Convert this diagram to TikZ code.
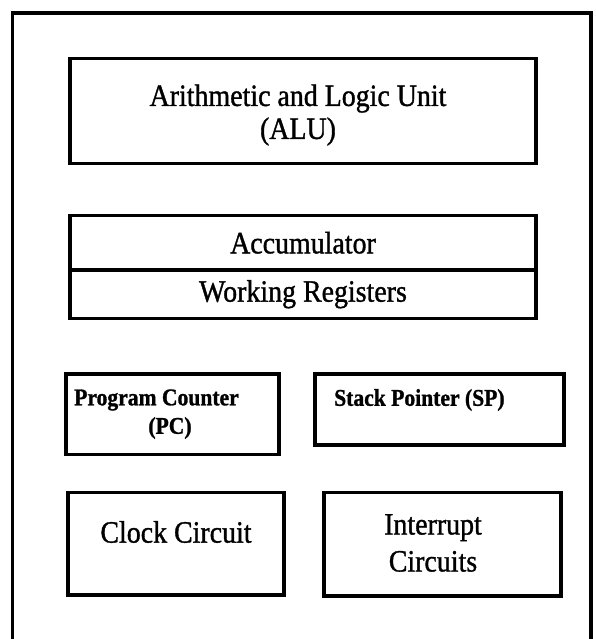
\documentclass[tikz,border=0pt]{standalone}
\usepackage{fontspec}
\setmainfont{Liberation Serif}[FakeStretch=0.9, FakeBold=1.1]
\usetikzlibrary{positioning}
\definecolor{ink}{HTML}{000000}
\tikzset{
  unit/.style={draw=ink, line width=3.2pt, inner sep=0pt, outer sep=0pt, anchor=north west},
  unittext/.style={font=\fontsize{31}{33}\selectfont, text=ink, align=center, inner sep=0pt},
  regtext/.style={font=\bfseries\fontsize{24}{30}\selectfont, text=ink, inner sep=0pt},
}

\begin{document}
\begin{tikzpicture}[x=1pt, y=-1pt]
\path[use as bounding box] (0,0) rectangle (595,639);
% outline of the chip, open at the bottom edge
\coordinate (cpu-bl) at (12.5,650);
\coordinate (cpu-tl) at (12.5,13);
\coordinate (cpu-tr) at (591,13);
\coordinate (cpu-br) at (591,650);
\draw[ink, line width=3.2pt] (cpu-bl) -- (cpu-tl) -- (cpu-tr) -- (cpu-br);

\node[unit, minimum width=466pt, minimum height=105pt] (alu) at (70,58.5) {};
\node[unittext] (alu-name) at (298,115) {Arithmetic and Logic Unit\\(ALU)};

% register block, split in two rows
\node[unit, unittext, minimum width=466pt, minimum height=54.5pt] (acc) at (70,215.5) {Accumulator};
\node[unit, unittext, minimum width=466pt, minimum height=48.5pt] (wreg) at (acc.south west) {Working Registers};

\node[unit, minimum width=213pt, minimum height=80.5pt] (pc) at (66,374) {};
\node[regtext, anchor=west] (pc-name) at (74,400) {Program Counter};
\node[regtext] (pc-abbr) at (170,428) {(PC)};

\node[unit, minimum width=249pt, minimum height=71pt] (sp) at (315,374) {};
\node[regtext, anchor=west] (sp-name) at (334,400) {Stack Pointer (SP)};

\node[unit, minimum width=216pt, minimum height=102.5pt] (clk) at (68,492.5) {};
\node[unittext] (clk-name) at (176,532) {Clock Circuit};

\node[unit, minimum width=237pt, minimum height=103.5pt] (intr) at (324,492.5) {};
\node[unittext, font=\fontsize{31}{37}\selectfont] (intr-name) at (433,543) {Interrupt\\Circuits};
\end{tikzpicture}
\end{document}
